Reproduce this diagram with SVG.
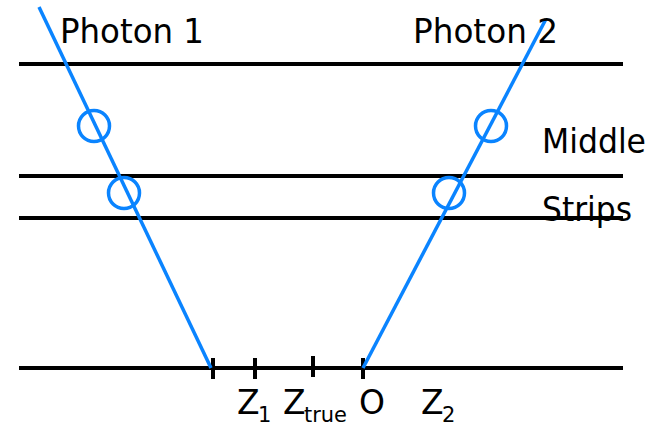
<svg xmlns="http://www.w3.org/2000/svg" width="657" height="428" viewBox="0 0 657 428">
<style>
.det{stroke:#000;stroke-width:4;fill:none}
.tick{stroke:#000;stroke-width:4}
.ph{stroke:#0a84ff;stroke-width:3.5;fill:none}
.hit{stroke:#0a84ff;stroke-width:3.5;fill:none}
text{font-family:"DejaVu Sans","Liberation Sans",sans-serif;fill:#000}
.lbl{font-size:33px}
.sub{font-size:21px}
</style>
<rect width="657" height="428" fill="#fff"/>
<g id="detectors">
<line class="det" x1="19" y1="64" x2="623" y2="64"/>
<line class="det" x1="19" y1="176" x2="623" y2="176"/>
<line class="det" x1="19" y1="218" x2="623" y2="218"/>
<line class="det" x1="19" y1="368" x2="623" y2="368"/>
</g>
<g id="ticks">
<line class="tick" x1="213" y1="358" x2="213" y2="379"/>
<line class="tick" x1="255" y1="358" x2="255" y2="379"/>
<line class="tick" x1="313" y1="356" x2="313" y2="377"/>
<line class="tick" x1="363" y1="358" x2="363" y2="379"/>
</g>
<g id="connectors">
<line class="ph" x1="39" y1="7" x2="211" y2="368"/>
<line class="ph" x1="546" y1="19" x2="363" y2="368"/>
</g>
<g id="hit1a"><circle class="hit" cx="94" cy="126" r="15.5"/></g>
<g id="hit1b"><circle class="hit" cx="124" cy="193" r="15.5"/></g>
<g id="hit2a"><circle class="hit" cx="491" cy="126" r="15.5"/></g>
<g id="hit2b"><circle class="hit" cx="449" cy="193" r="15.5"/></g>
<g id="labels">
<text class="lbl" x="60" y="43" textLength="144" lengthAdjust="spacingAndGlyphs">Photon 1</text>
<text class="lbl" x="413" y="43" textLength="145" lengthAdjust="spacingAndGlyphs">Photon 2</text>
<text class="lbl" x="542" y="153" textLength="104" lengthAdjust="spacingAndGlyphs">Middle</text>
<text class="lbl" x="542" y="221" textLength="90" lengthAdjust="spacingAndGlyphs">Strips</text>
<text class="lbl" x="237" y="414">Z</text><text class="sub" x="258" y="422">1</text>
<text class="lbl" x="283" y="414">Z</text><text class="sub" x="304" y="422" textLength="43" lengthAdjust="spacingAndGlyphs">true</text>
<text class="lbl" x="359" y="414">O</text>
<text class="lbl" x="421" y="414">Z</text><text class="sub" x="442" y="422">2</text>
</g>
</svg>
